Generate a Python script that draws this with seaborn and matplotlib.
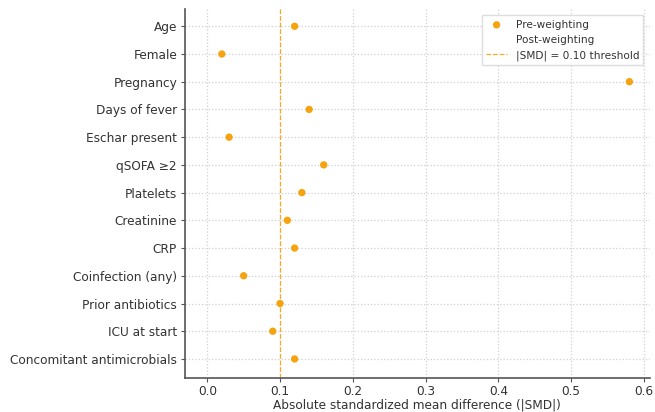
import matplotlib
matplotlib.use("Agg")
import matplotlib.pyplot as plt
import seaborn as sns
import numpy as np
import pandas as pd

covariates = ["Age", "Female", "Pregnancy", "Days of fever", "Eschar present",
              "qSOFA \u22652", "Platelets", "Creatinine", "CRP", "Coinfection (any)",
              "Prior antibiotics", "ICU at start", "Concomitant antimicrobials"]
smd_pre = [0.12, 0.02, 0.58, 0.14, 0.03, 0.16, 0.13, 0.11, 0.12, 0.05, 0.10, 0.09, 0.12]
smd_post = [np.nan] * len(covariates)
threshold = 0.10
xticks = [0.0, 0.1, 0.2, 0.3, 0.4, 0.5, 0.6]

sns.set_theme(style="white")
plt.rcParams['font.family'] = ['DejaVu Sans']

df = pd.DataFrame({"covariate": covariates, "pre": smd_pre, "post": smd_post})

fig = plt.figure(figsize=(6.55, 4.12), dpi=100)
ax = fig.add_axes([0.282, 0.083, 0.71, 0.895])

orange = "#F5A30F"
sns.scatterplot(data=df, x="pre", y="covariate", ax=ax, color=orange, s=28,
                edgecolor="none", label="Pre-weighting", zorder=3)
ax.plot(df["post"], df["covariate"], linestyle="none", marker="", label="Post-weighting")
ax.axvline(threshold, color=orange, linestyle="--", linewidth=0.9, alpha=0.9,
           label="|SMD| = 0.10 threshold", zorder=2)

ax.set_xlim(-0.031, 0.608)
ax.set_ylim(len(covariates) - 0.32, -0.62)
ax.set_xticks(xticks)
ax.set_xticklabels([f"{t:.1f}" for t in xticks])
ax.grid(True, linestyle=":", color="#d0d0d0", linewidth=0.9)
ax.set_axisbelow(True)
for s in ["top", "right"]:
    ax.spines[s].set_visible(False)
for s in ["left", "bottom"]:
    ax.spines[s].set_color("#555555")
    ax.spines[s].set_linewidth(1.2)
ax.tick_params(axis="both", which="both", length=3, width=0.8, color="#555555",
               labelsize=8.7, labelcolor="#333333", bottom=True, left=True, pad=2.5)
ax.tick_params(axis="x", pad=2)
ax.set_xlabel("Absolute standardized mean difference (|SMD|)", fontsize=8.7,
              color="#333333", labelpad=0.5)
ax.set_ylabel("")

leg = ax.legend(loc="upper right", fontsize=7.6, frameon=True, framealpha=1,
                edgecolor="#dddddd", fancybox=False, borderaxespad=0.6)
for t in leg.get_texts():
    t.set_color("#333333")

fig.savefig("out.png", dpi=100)
